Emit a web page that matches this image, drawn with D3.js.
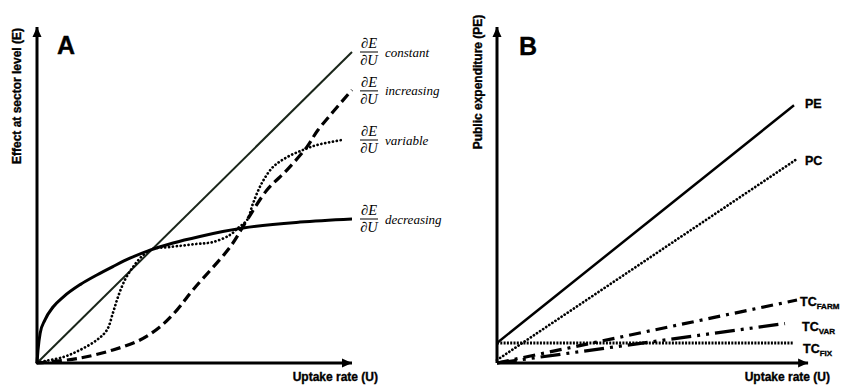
<!DOCTYPE html>
<html><head><meta charset="utf-8">
<script src="https://cdn.jsdelivr.net/npm/d3@7"></script>
<style>body{margin:0;background:#fff}svg{display:block}</style>
</head><body>
<svg id="c" width="847" height="387"></svg>
<script>
// ---- Panel A data (U in %, E in % of max) ----
const constantU = [0, 100];
const constantE = [0, 100];
const increasingU = [0, 3.2, 13.7, 24.1, 32.7, 39, 44.4, 49.5, 61.3, 66.7, 73, 79.4, 85.7, 89.2, 100];
const increasingE = [0, 0.3, 1.6, 4.2, 7.4, 11.6, 17, 23.5, 37.3, 46, 55.6, 62.1, 69.5, 74.9, 87.8];
const variableU = [0, 1, 8.3, 13.7, 19, 22.2, 24.1, 25.7, 27.9, 30.5, 33.7, 36.8, 42.2, 50.8, 55.9, 61.3, 63.8, 66.7, 68.6, 71.4, 74.9, 79.4, 84.4, 88.9, 96.8];
const variableE = [0, 0.3, 1.9, 4.2, 7.4, 10.6, 16.1, 21.2, 26.7, 30.9, 34.7, 36.7, 37.3, 38.3, 38.9, 41.2, 43.4, 46, 51.4, 57.9, 63, 66.2, 68.5, 70.1, 71.7];
const decreasingU = [0, 0.3, 1, 2.5, 5.1, 8.3, 13.7, 19, 24.1, 29.5, 35.9, 43.2, 51.7, 65.4, 83.5, 100];
const decreasingE = [0, 4, 9.6, 13.8, 18, 21.2, 25.2, 28.3, 31, 33.7, 36.3, 38.6, 40.7, 43.4, 45.3, 46.3];
const labelsA = ["constant", "increasing", "variable", "decreasing"];

// ---- Panel B data ----
const uB = [0, 100];
const PE = [6.7, 86.7];
const PC = [1, 68];
const TCfarm = [0, 21];
const TCvar = [0, 13.7];
const TCfix = [6.7, 6.7];
const endB = {PE: 99, PC: 100, TCfarm: 100, TCvar: 96, TCfix: 99};

const svg = d3.select("#c");
const bold = "'Liberation Sans', Arial, sans-serif";
const serif = "'Liberation Serif', 'Times New Roman', serif";

function arrow(g, x1, y1, x2, y2) {
  g.append("line").attr("x1", x1).attr("y1", y1).attr("x2", x2).attr("y2", y2)
    .attr("stroke", "#000").attr("stroke-width", 3);
  const ang = Math.atan2(y2 - y1, x2 - x1), L = 10, W = 4.5;
  const bx = x2 - L * Math.cos(ang), by = y2 - L * Math.sin(ang);
  const px = -Math.sin(ang) * W, py = Math.cos(ang) * W;
  g.append("path").attr("d", `M${x2},${y2}L${bx + px},${by + py}L${bx - px},${by - py}Z`).attr("fill", "#000");
}
function boldText(g) {
  return g.append("text").attr("font-family", bold).attr("font-weight", "bold")
    .attr("stroke", "#000").attr("stroke-width", 0.35).attr("fill", "#000");
}

// ---------- Panel A ----------
const xA = d3.scaleLinear().domain([0, 100]).range([37, 352]);
const yA = d3.scaleLinear().domain([0, 100]).range([363, 52]);
const gA = svg.append("g");
const lineA = d3.line().x(d => xA(d[0])).y(d => yA(d[1])).curve(d3.curveMonotoneX);
const lineS = d3.line().x(d => xA(d[0])).y(d => yA(d[1])).curve(d3.curveCatmullRom.alpha(0.5));
const zip = (a, b) => a.map((v, i) => [v, b[i]]);

gA.append("path").attr("d", lineA(zip(constantU, constantE))).attr("fill", "none")
  .attr("stroke", "#1a261a").attr("stroke-width", 2);
gA.append("path").attr("d", lineA(zip(decreasingU, decreasingE))).attr("fill", "none")
  .attr("stroke", "#000").attr("stroke-width", 3);
gA.append("path").attr("d", lineS(zip(variableU, variableE))).attr("fill", "none")
  .attr("stroke", "#000").attr("stroke-width", 2.7).attr("stroke-linecap", "round").attr("stroke-dasharray", "0.1 3.8");
gA.append("path").attr("d", lineS(zip(increasingU, increasingE))).attr("fill", "none")
  .attr("stroke", "#000").attr("stroke-width", 3.2).attr("stroke-dasharray", "10 5");

arrow(gA, xA(0), yA(0), xA(0), yA(108));
arrow(gA, xA(0), yA(0), xA(100), yA(0));

const labelYs = [100, 87.5, 71.7, 46.3];
labelsA.forEach((lab, i) => {
  const cy = yA(labelYs[i]);
  const fx = 369;
  gA.append("text").attr("x", fx).attr("y", cy - 4).attr("text-anchor", "middle")
    .attr("font-family", serif).attr("font-size", 14.5).html("∂<tspan font-style='italic'>E</tspan>");
  gA.append("line").attr("x1", 360).attr("x2", 378).attr("y1", cy).attr("y2", cy).attr("stroke", "#000").attr("stroke-width", 1);
  gA.append("text").attr("x", fx).attr("y", cy + 13).attr("text-anchor", "middle")
    .attr("font-family", serif).attr("font-size", 14.5).html("∂<tspan font-style='italic'>U</tspan>");
  gA.append("text").attr("x", 385).attr("y", cy + 4.5).attr("font-family", serif).attr("font-style", "italic")
    .attr("font-size", 13).text(lab);
});

boldText(gA).attr("x", 57).attr("y", 54).attr("font-size", 25).text("A");
boldText(gA).attr("transform", "translate(21,96) rotate(-90)").attr("text-anchor", "middle")
  .attr("font-size", 12).text("Effect at sector level (E)");
boldText(gA).attr("x", 378).attr("y", 381).attr("text-anchor", "end")
  .attr("font-size", 12).text("Uptake rate (U)");

// ---------- Panel B ----------
const xB = d3.scaleLinear().domain([0, 100]).range([497, 797]);
const yB = d3.scaleLinear().domain([0, 100]).range([363, 63]);
const gB = svg.append("g");
const seg = (vals, end) => `M${xB(uB[0])},${yB(vals[0])}L${xB(end)},${yB(vals[0] + (vals[1] - vals[0]) * end / 100)}`;

gB.append("path").attr("d", seg(TCfix, endB.TCfix)).attr("stroke", "#000").attr("stroke-width", 3).attr("stroke-dasharray", "2 1.3").attr("fill", "none");
gB.append("path").attr("d", seg(PE, endB.PE)).attr("stroke", "#000").attr("stroke-width", 2.5).attr("fill", "none");
gB.append("path").attr("d", seg(PC, endB.PC)).attr("stroke", "#000").attr("stroke-width", 2.7).attr("stroke-linecap", "round").attr("stroke-dasharray", "0.1 3.6").attr("fill", "none");
gB.append("path").attr("d", seg(TCfarm, endB.TCfarm)).attr("stroke", "#000").attr("stroke-width", 3.2).attr("stroke-dasharray", "12 6 3 6").attr("fill", "none");
gB.append("path").attr("d", seg(TCvar, endB.TCvar)).attr("stroke", "#000").attr("stroke-width", 3.2).attr("stroke-dasharray", "20 6 3 6 3 6").attr("fill", "none");

arrow(gB, xB(0), yB(0), xB(0), yB(112));
arrow(gB, xB(0), yB(0), xB(103.7), yB(0));

const lbl = (x, y, main, sub) => {
  const t = boldText(gB).attr("x", x).attr("y", y).attr("font-size", 12.5);
  t.append("tspan").text(main);
  if (sub) t.append("tspan").attr("font-size", 8).attr("dy", 3).text(sub);
};
lbl(805, 108, "PE");
lbl(805, 165, "PC");
lbl(800, 306, "TC", "FARM");
lbl(802, 331, "TC", "VAR");
lbl(803, 353, "TC", "FIX");

boldText(gB).attr("x", 519).attr("y", 55).attr("font-size", 25).text("B");
boldText(gB).attr("transform", "translate(482,82) rotate(-90)").attr("text-anchor", "middle")
  .attr("font-size", 12).text("Public expenditure (PE)");
boldText(gB).attr("x", 830).attr("y", 381).attr("text-anchor", "end")
  .attr("font-size", 12).text("Uptake rate (U)");
</script>
</body></html>
